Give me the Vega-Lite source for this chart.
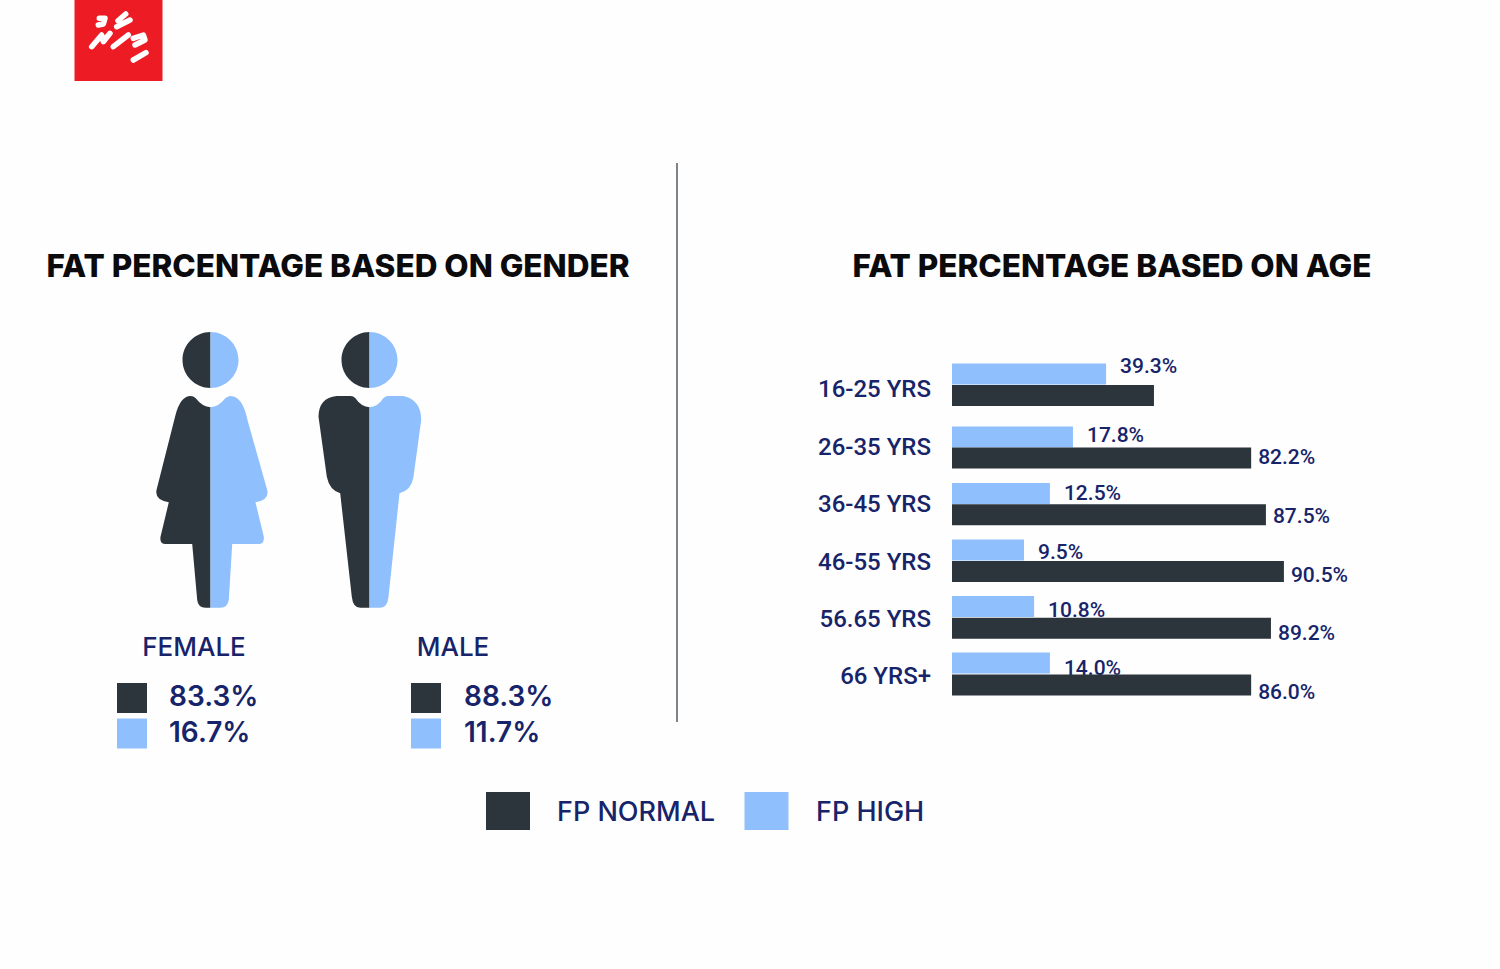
{
  "$schema": "https://vega.github.io/schema/vega-lite/v6.json",
  "width": 1500,
  "height": 969,
  "padding": 0,
  "autosize": {"type": "fit", "contains": "padding"},
  "background": "#fefefe",
  "config": {"view": {"stroke": null}, "text": {"color": "#17246a"}, "scale": {"pointPadding": 0}},
  "datasets": {
    "headings": [
      {"panel": "gender", "title": "FAT PERCENTAGE BASED ON GENDER"},
      {"panel": "age", "title": "FAT PERCENTAGE BASED ON AGE"}
    ],
    "gender": [
      {"gender": "FEMALE", "series": "FP NORMAL", "value": 83.3, "label": "83.3%"},
      {"gender": "FEMALE", "series": "FP HIGH", "value": 16.7, "label": "16.7%"},
      {"gender": "MALE", "series": "FP NORMAL", "value": 88.3, "label": "88.3%"},
      {"gender": "MALE", "series": "FP HIGH", "value": 11.7, "label": "11.7%"}
    ],
    "age": [
      {"age": "16-25 YRS", "from": 16, "series": "FP NORMAL", "bar": 56.1, "label": null},
      {"age": "16-25 YRS", "from": 16, "series": "FP HIGH", "bar": 42.8, "label": "39.3%"},
      {"age": "26-35 YRS", "from": 26, "series": "FP NORMAL", "bar": 83.1, "label": "82.2%"},
      {"age": "26-35 YRS", "from": 26, "series": "FP HIGH", "bar": 33.6, "label": "17.8%"},
      {"age": "36-45 YRS", "from": 36, "series": "FP NORMAL", "bar": 87.2, "label": "87.5%"},
      {"age": "36-45 YRS", "from": 36, "series": "FP HIGH", "bar": 27.2, "label": "12.5%"},
      {"age": "46-55 YRS", "from": 46, "series": "FP NORMAL", "bar": 92.2, "label": "90.5%"},
      {"age": "46-55 YRS", "from": 46, "series": "FP HIGH", "bar": 20, "label": "9.5%"},
      {"age": "56.65 YRS", "from": 56, "series": "FP NORMAL", "bar": 88.6, "label": "89.2%"},
      {"age": "56.65 YRS", "from": 56, "series": "FP HIGH", "bar": 22.8, "label": "10.8%"},
      {"age": "66 YRS+", "from": 66, "series": "FP NORMAL", "bar": 83.1, "label": "86.0%"},
      {"age": "66 YRS+", "from": 66, "series": "FP HIGH", "bar": 27.2, "label": "14.0%"}
    ],
    "series": [
      {"series": "FP NORMAL"},
      {"series": "FP HIGH"}
    ],
    "brand": [{"item": "logo"}],
    "divider": [{"line": "divider", "from": 0, "to": 1}]
  },
  "layer": [
    {
      "data": {"name": "brand"},
      "mark": {"type": "point", "filled": true, "opacity": 1, "size": 40000, "color": "#ed1c24", "strokeWidth": 0, "shape": "M-.435,-.4H.445V.41H-.435Z"},
      "encoding": {
        "x": {"field": "item", "type": "nominal", "axis": null, "scale": {"type": "point", "range": [118, 118]}},
        "y": {"field": "item", "type": "nominal", "axis": null, "scale": {"type": "point", "range": [40, 40]}}
      }
    },
    {
      "data": {"name": "brand"},
      "mark": {"type": "point", "filled": false, "opacity": 1, "size": 40000, "stroke": "#ffffff", "strokeWidth": 5.5, "strokeCap": "round", "strokeJoin": "round", "shape": "M-.187,-.217L-.13,-.217L-.147,-.16L-.197,-.15M0,-.193L.077,-.26M-.013,-.133L.12,-.2M-.263,.067L-.163,-.05L-.147,.017L-.08,-.067M-.047,.067L.103,-.05M.153,-.017L.253,-.05L.27,0L.17,.05M.153,.2L.28,.127"},
      "encoding": {
        "x": {"field": "item", "type": "nominal", "axis": null, "scale": {"type": "point", "range": [118, 118]}},
        "y": {"field": "item", "type": "nominal", "axis": null, "scale": {"type": "point", "range": [40, 40]}}
      }
    },
    {
      "data": {"name": "divider"},
      "mark": {"type": "rule", "color": "#555b60", "strokeWidth": 1.5},
      "encoding": {
        "x": {"field": "line", "type": "nominal", "axis": null, "scale": {"type": "point", "range": [677, 677]}},
        "y": {"field": "from", "type": "quantitative", "axis": null, "scale": {"domain": [0, 1], "range": [163, 722]}},
        "y2": {"field": "to"}
      }
    },
    {
      "data": {"name": "headings"},
      "mark": {"type": "text", "font": "Inter", "fontWeight": 800, "fontSize": 31.5, "color": "#0b0b0d", "align": "center", "baseline": "middle"},
      "encoding": {
        "x": {"field": "panel", "type": "nominal", "axis": null, "scale": {"type": "point", "domain": ["gender", "age"], "range": [338, 1112]}},
        "y": {"field": "panel", "type": "nominal", "axis": null, "scale": {"type": "point", "range": [268, 268]}},
        "text": {"field": "title"}
      }
    },
    {
      "data": {"name": "gender"},
      "transform": [{"filter": "datum.series === 'FP NORMAL'"}],
      "mark": {"type": "point", "filled": true, "opacity": 1, "size": 40000, "strokeWidth": 0},
      "encoding": {
        "x": {"field": "gender", "type": "nominal", "axis": null, "scale": {"type": "point", "domain": ["FEMALE", "MALE"], "range": [210.5, 369.5]}},
        "y": {"field": "series", "type": "nominal", "axis": null, "scale": {"type": "point", "range": [470, 470]}},
        "color": {"field": "series", "type": "nominal", "legend": null, "scale": {"domain": ["FP NORMAL", "FP HIGH"], "range": ["#2d353c", "#8fc0fd"]}},
        "shape": {"field": "gender", "type": "nominal", "legend": null, "scale": {"domain": ["FEMALE", "MALE"], "range": [
          "M0,-1.38A.28,.28 0 0 0 0,-.82ZM0,-.627Q-.08,-.63 -.15,-.72Q-.17,-.74 -.2,-.74Q-.3,-.74 -.35,-.55L-.54,.2Q-.56,.3 -.417,.323L-.5,.667Q-.51,.74 -.45,.74L-.183,.74L-.133,1.3Q-.125,1.377 -.05,1.377L0,1.377Z",
          "M0,-1.38A.28,.28 0 0 0 0,-.82ZM0,-.627Q-.08,-.63 -.143,-.72Q-.16,-.74 -.19,-.74L-.327,-.74Q-.51,-.72 -.51,-.533L-.427,.067Q-.4,.2 -.293,.233L-.177,1.267Q-.165,1.377 -.093,1.377L0,1.377Z"
        ]}}
      }
    },
    {
      "data": {"name": "gender"},
      "transform": [{"filter": "datum.series === 'FP HIGH'"}],
      "mark": {"type": "point", "filled": true, "opacity": 1, "size": 40000, "strokeWidth": 0},
      "encoding": {
        "x": {"field": "gender", "type": "nominal", "axis": null, "scale": {"type": "point", "domain": ["FEMALE", "MALE"], "range": [210.5, 369.5]}},
        "y": {"field": "series", "type": "nominal", "axis": null, "scale": {"type": "point", "range": [470, 470]}},
        "color": {"field": "series", "type": "nominal", "legend": null, "scale": {"domain": ["FP NORMAL", "FP HIGH"], "range": ["#2d353c", "#8fc0fd"]}},
        "shape": {"field": "gender", "type": "nominal", "legend": null, "scale": {"domain": ["FEMALE", "MALE"], "range": [
          "M0,-1.38A.28,.28 0 0 1 0,-.82ZM0,-.627Q.08,-.63 .15,-.72Q.18,-.74 .2,-.74Q.32,-.74 .37,-.5L.567,.2Q.59,.3 .45,.323L.533,.667Q.54,.74 .48,.74L.217,.74L.183,1.3Q.17,1.377 .1,1.377L0,1.377Z",
          "M0,-1.38A.28,.28 0 0 1 0,-.82ZM0,-.627Q.08,-.63 .14,-.72Q.16,-.74 .19,-.74L.34,-.74Q.517,-.7 .517,-.5L.44,.067Q.42,.2 .3,.233L.19,1.267Q.18,1.377 .107,1.377L0,1.377Z"
        ]}}
      }
    },
    {
      "data": {"name": "gender"},
      "transform": [{"filter": "datum.series === 'FP NORMAL'"}],
      "mark": {"type": "text", "font": "Inter", "fontWeight": 500, "fontSize": 26, "align": "center", "baseline": "middle"},
      "encoding": {
        "x": {"field": "gender", "type": "nominal", "axis": null, "scale": {"type": "point", "domain": ["FEMALE", "MALE"], "range": [194, 453]}},
        "y": {"field": "gender", "type": "nominal", "axis": null, "scale": {"type": "point", "range": [648, 648]}},
        "text": {"field": "gender"}
      }
    },
    {
      "data": {"name": "gender"},
      "mark": {"type": "point", "filled": true, "opacity": 1, "size": 900, "shape": "square", "strokeWidth": 0},
      "encoding": {
        "x": {"field": "gender", "type": "nominal", "axis": null, "scale": {"type": "point", "domain": ["FEMALE", "MALE"], "range": [132, 426]}},
        "y": {"field": "series", "type": "nominal", "axis": null, "scale": {"type": "point", "domain": ["FP NORMAL", "FP HIGH"], "range": [698, 733.5]}},
        "color": {"field": "series", "type": "nominal", "legend": null, "scale": {"domain": ["FP NORMAL", "FP HIGH"], "range": ["#2d353c", "#8fc0fd"]}}
      }
    },
    {
      "data": {"name": "gender"},
      "mark": {"type": "text", "font": "Inter", "fontWeight": 600, "fontSize": 28, "align": "left", "baseline": "middle"},
      "encoding": {
        "x": {"field": "gender", "type": "nominal", "axis": null, "scale": {"type": "point", "domain": ["FEMALE", "MALE"], "range": [169, 464]}},
        "y": {"field": "series", "type": "nominal", "axis": null, "scale": {"type": "point", "domain": ["FP NORMAL", "FP HIGH"], "range": [698, 734]}},
        "text": {"field": "label"}
      }
    },
    {
      "data": {"name": "age"},
      "transform": [{"filter": "datum.series === 'FP HIGH'"}],
      "mark": {"type": "text", "font": "Roboto", "fontWeight": 500, "fontSize": 24, "align": "right", "baseline": "middle"},
      "encoding": {
        "x": {"field": "age", "type": "nominal", "axis": null, "scale": {"type": "point", "range": [931, 931]}},
        "y": {"field": "from", "type": "quantitative", "axis": null, "scale": {"domain": [16, 26, 66], "range": [390, 448, 677]}},
        "text": {"field": "age"}
      }
    },
    {
      "data": {"name": "age"},
      "transform": [{"filter": "datum.series === 'FP HIGH'"}],
      "mark": {"type": "bar", "orient": "horizontal", "size": 21, "color": "#8fc0fd"},
      "encoding": {
        "x": {"field": "bar", "type": "quantitative", "axis": null, "scale": {"domain": [0, 100], "range": [952, 1312]}},
        "y": {"field": "from", "type": "quantitative", "axis": null, "scale": {"domain": [16, 26, 66], "range": [368.5, 437, 668]}}
      }
    },
    {
      "data": {"name": "age"},
      "transform": [{"filter": "datum.series === 'FP HIGH'"}],
      "mark": {"type": "text", "font": "Roboto", "fontWeight": 500, "fontSize": 21, "align": "left", "baseline": "middle", "dx": 14},
      "encoding": {
        "x": {"field": "bar", "type": "quantitative", "axis": null, "scale": {"domain": [0, 100], "range": [952, 1312]}},
        "y": {"field": "from", "type": "quantitative", "axis": null, "scale": {"domain": [16, 26, 66], "range": [367, 436, 669]}},
        "text": {"field": "label"}
      }
    },
    {
      "data": {"name": "age"},
      "transform": [{"filter": "datum.series === 'FP NORMAL'"}],
      "mark": {"type": "bar", "orient": "horizontal", "size": 21, "color": "#2d353c"},
      "encoding": {
        "x": {"field": "bar", "type": "quantitative", "axis": null, "scale": {"domain": [0, 100], "range": [952, 1312]}},
        "y": {"field": "from", "type": "quantitative", "axis": null, "scale": {"domain": [16, 26, 66], "range": [390, 458, 690]}}
      }
    },
    {
      "data": {"name": "age"},
      "transform": [{"filter": "datum.series === 'FP NORMAL' && datum.label !== null"}],
      "mark": {"type": "text", "font": "Roboto", "fontWeight": 500, "fontSize": 21, "align": "left", "baseline": "middle", "dx": 7},
      "encoding": {
        "x": {"field": "bar", "type": "quantitative", "axis": null, "scale": {"domain": [0, 100], "range": [952, 1312]}},
        "y": {"field": "from", "type": "quantitative", "axis": null, "scale": {"domain": [26, 66], "range": [458, 693]}},
        "text": {"field": "label"}
      }
    },
    {
      "data": {"name": "series"},
      "mark": {"type": "point", "filled": true, "opacity": 1, "size": 40000, "strokeWidth": 0, "shape": "M-.22,-.19H.22V.19H-.22Z"},
      "encoding": {
        "x": {"field": "series", "type": "nominal", "axis": null, "scale": {"type": "point", "domain": ["FP NORMAL", "FP HIGH"], "range": [508, 766.5]}},
        "y": {"field": "series", "type": "nominal", "axis": null, "scale": {"type": "point", "range": [811, 811]}},
        "color": {"field": "series", "type": "nominal", "legend": null, "scale": {"domain": ["FP NORMAL", "FP HIGH"], "range": ["#2d353c", "#8fc0fd"]}}
      }
    },
    {
      "data": {"name": "series"},
      "mark": {"type": "text", "font": "Inter", "fontWeight": 500, "fontSize": 27, "align": "left", "baseline": "middle"},
      "encoding": {
        "x": {"field": "series", "type": "nominal", "axis": null, "scale": {"type": "point", "domain": ["FP NORMAL", "FP HIGH"], "range": [557, 816]}},
        "y": {"field": "series", "type": "nominal", "axis": null, "scale": {"type": "point", "range": [813, 813]}},
        "text": {"field": "series"}
      }
    }
  ],
  "resolve": {"scale": {"x": "independent", "y": "independent", "shape": "independent"}}
}
